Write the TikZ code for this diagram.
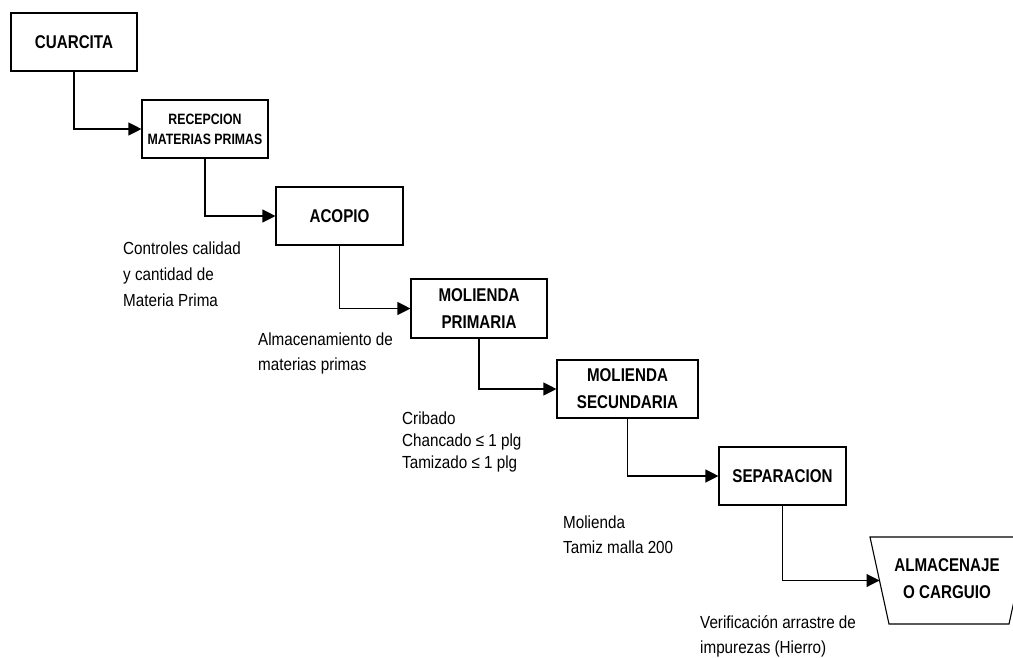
\documentclass[tikz,border=0pt]{standalone}
\usepackage{fontspec}
\setmainfont{Liberation Sans}
\newfontfamily\boxfont[FakeStretch=0.82]{Liberation Sans}
\newfontfamily\labelfont[FakeStretch=0.87]{Liberation Sans}
\usetikzlibrary{arrows.meta,calc}
\begin{document}
\begin{tikzpicture}[x=1pt,y=-1pt,
  stepbox/.style={draw=black, line width=1.1pt, inner sep=0pt, align=center,
    font=\boxfont\bfseries\fontsize{18.5}{27}\selectfont},
  smallbox/.style={stepbox, font=\boxfont\bfseries\fontsize{15}{20}\selectfont},
  flow/.style={draw=black, line width=1.1pt, -{Triangle[length=13pt,width=13pt]}},
  note/.style={anchor=base west, align=left, inner sep=0pt}]
\useasboundingbox (0,0) rectangle (1013,657);

\node[stepbox, minimum width=126pt, minimum height=58pt] (cuarcita) at (74,42) {CUARCITA};
\node[smallbox, minimum width=126pt, minimum height=58pt] (recep) at (205,129) {RECEPCION\\MATERIAS PRIMAS};
\node[stepbox, minimum width=127pt, minimum height=58pt] (acopio) at (339.5,216) {ACOPIO};
\node[stepbox, minimum width=136pt, minimum height=59pt] (molp) at (479,308.5) {MOLIENDA\\PRIMARIA};
\node[stepbox, minimum width=141pt, minimum height=58pt] (mols) at (627.5,389) {MOLIENDA\\SECUNDARIA};
\node[stepbox, minimum width=127pt, minimum height=58pt] (sep) at (782.5,476) {SEPARACION};

% manual operation (trapezoid)
\coordinate (tl) at (870,537);
\coordinate (tr) at (1028,537);
\coordinate (br) at (1009,624);
\coordinate (bl) at (889,624);
\draw[line width=1.1pt] (tl) -- (tr) -- (br) -- (bl) -- cycle;
\node[align=center, inner sep=0pt, font=\boxfont\bfseries\fontsize{18.5}{27}\selectfont] (alm) at (947,579) {ALMACENAJE\\O CARGUIO};
\coordinate (almin) at ($(tl)!0.5!(bl)$);

% connectors
\draw[flow] (cuarcita.south) |- (recep.west);
\draw[flow] (recep.south) |- (acopio.west);
\draw[flow] (acopio.south) |- (molp.west);
\draw[flow] (molp.south) |- (mols.west);
\draw[flow] (mols.south) |- (sep.west);
\draw[flow] (sep.south) |- (almin);

% notes (anchored at the baseline of the last line)
\node[note, font=\labelfont\fontsize{17.5}{26}\selectfont] (n1) at (123,306) {Controles calidad\\y cantidad de\\Materia Prima};
\node[note, font=\labelfont\fontsize{17.5}{25}\selectfont] (n2) at (258,370) {Almacenamiento de\\materias primas};
\node[note, font=\labelfont\fontsize{17.5}{22}\selectfont] (n3) at (402,468) {Cribado\\Chancado ≤ 1 plg\\Tamizado ≤ 1 plg};
\node[note, font=\labelfont\fontsize{17.5}{25}\selectfont] (n4) at (563,553) {Molienda\\Tamiz malla 200};
\node[note, font=\labelfont\fontsize{17.5}{25}\selectfont] (n5) at (700,653) {Verificación arrastre de\\impurezas (Hierro)};
\end{tikzpicture}
\end{document}
